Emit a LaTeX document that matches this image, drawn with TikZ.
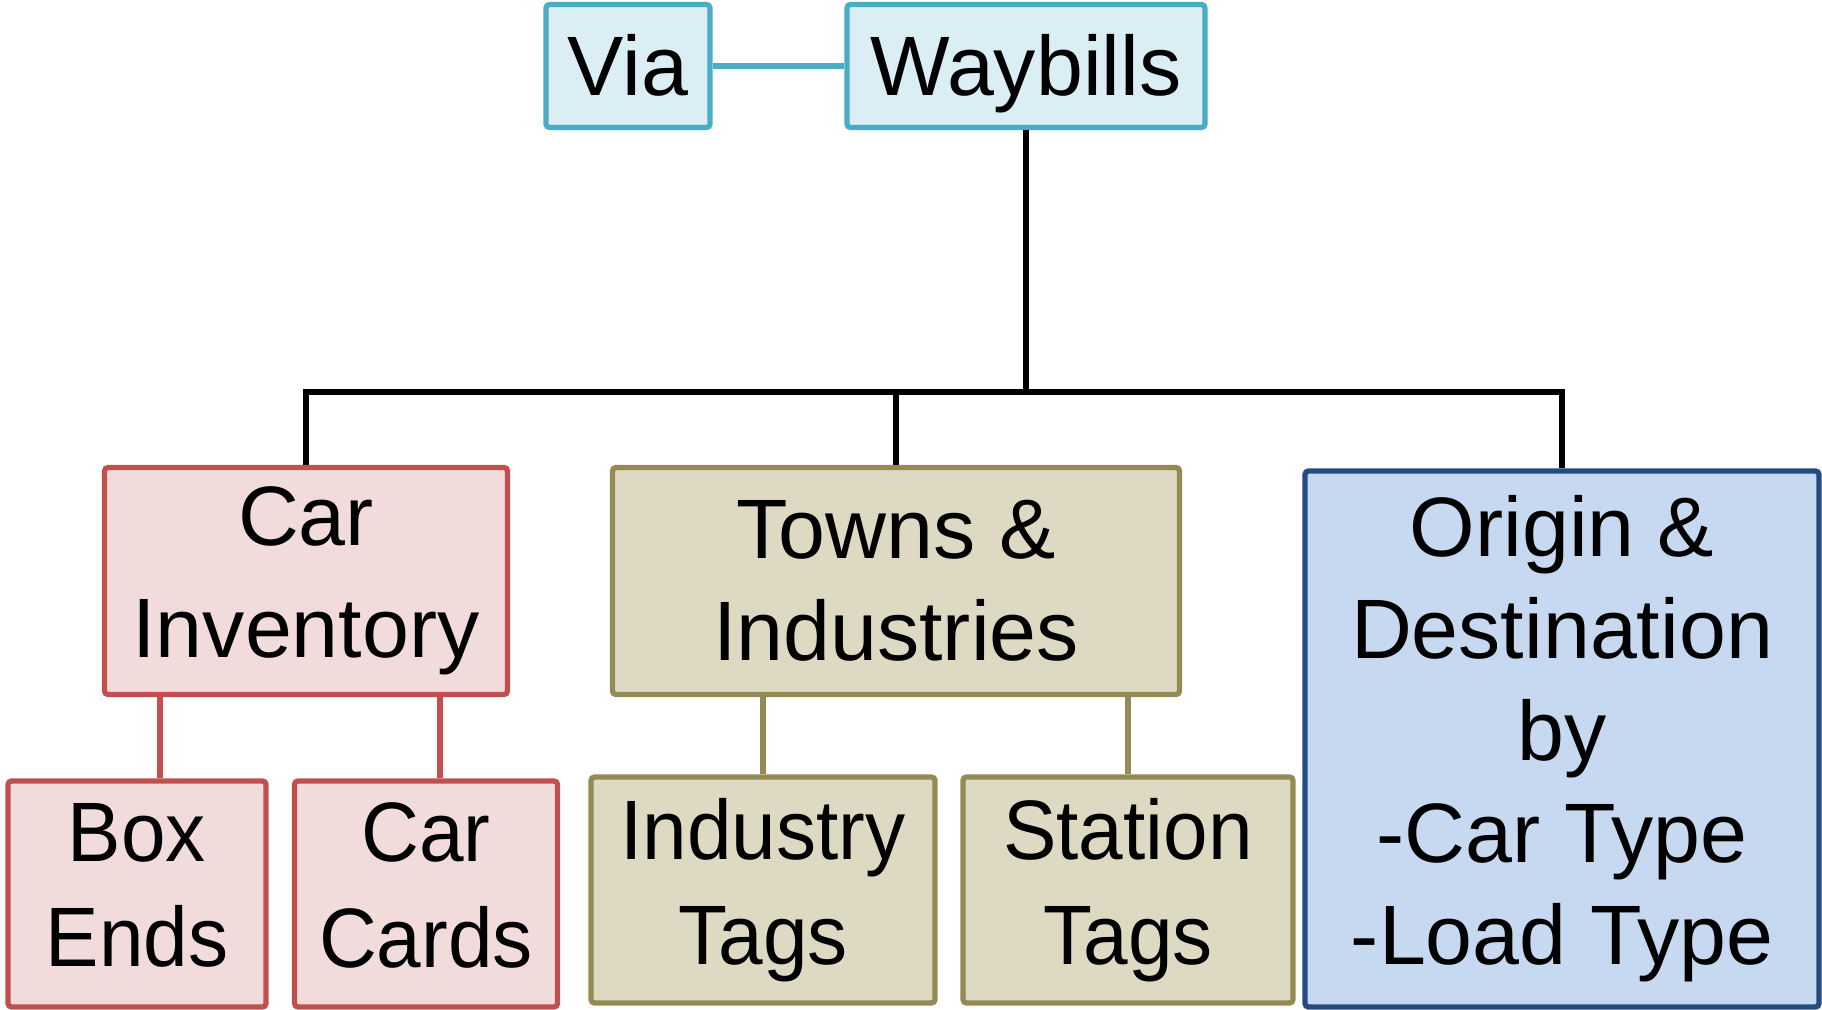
\documentclass[tikz,border=0pt]{standalone}
\usepackage{fontspec}
\setmainfont{Liberation Sans}
\newfontfamily\narrowsans[FakeStretch=0.95]{Liberation Sans}
\usepackage{tikz}
\usetikzlibrary{arrows}

\definecolor{vialine}{RGB}{75,172,198}
\definecolor{viafill}{RGB}{219,238,243}
\definecolor{carline}{RGB}{192,80,77}
\definecolor{carfill}{RGB}{242,220,219}
\definecolor{townline}{RGB}{148,138,84}
\definecolor{townfill}{RGB}{221,217,195}
\definecolor{odline}{RGB}{36,76,128}
\definecolor{odfill}{RGB}{198,217,241}

\begin{document}
\begin{tikzpicture}[x=0.1mm,y=-0.1mm,
		box/.style={rectangle,rounded corners=1pt,line width=1.5pt,inner sep=0pt,align=center,font=\fontsize{24}{30}\selectfont},
		small/.style={font=\narrowsans\fontsize{24}{30}\selectfont},
		viabox/.style={box,draw=vialine,fill=viafill},
		carbox/.style={box,draw=carline,fill=carfill},
		townbox/.style={box,draw=townline,fill=townfill},
		odbox/.style={box,draw=odline,fill=odfill},
		link/.style={line width=1.8pt}]
			\useasboundingbox (0,0) rectangle (1822,1010);
			
			% top
			
			\node[viabox,minimum width=16.4mm,minimum height=12.3mm,text height=17pt,text depth=0pt] (Via) at (628,66) {Via};
			\node[viabox,minimum width=35.8mm,minimum height=12.3mm,text height=17pt,text depth=0pt] (Waybills) at (1026,66) {Waybills};
			\draw[link,draw=vialine] (Via) -- (Waybills);
			
			% middle
			
			\node[carbox,minimum width=40.3mm,minimum height=22.7mm] (CarInv) at (306,581) {Car\\[2pt]Inventory};
			\node[townbox,minimum width=56.7mm,minimum height=22.7mm] (Towns) at (896,581) {Towns \&\\[-1pt]Industries};
			\node[odbox,minimum width=51.4mm,minimum height=53.6mm,font=\fontsize{24}{29}\selectfont] (OD) at (1562,739) {Origin \&\\Destination\\by\\-Car Type\\-Load Type};
			
			\coordinate (bus) at (1026,392);
			\draw[link] (Waybills.south) -- (bus);
			\draw[link] (CarInv.north) |- (bus) -| (OD.north);
			\draw[link] (Towns.north) -- (Towns.north |- bus);
			
			% bottom
			
			\node[carbox,small,minimum width=25.8mm,minimum height=22.6mm,text depth=5pt] (BoxEnds) at (137,894) {Box\\Ends};
			\node[carbox,small,minimum width=26.3mm,minimum height=22.6mm,text depth=5pt] (CarCards) at (426,894) {Car\\Cards};
			\node[townbox,small,minimum width=34.4mm,minimum height=22.6mm] (IndTags) at (763,890) {Industry\\Tags};
			\node[townbox,small,minimum width=33mm,minimum height=22.6mm] (StaTags) at (1128,890) {Station\\Tags};
			
			\draw[link,draw=carline] ([xshift=2.3mm]BoxEnds.north) -- ([xshift=2.3mm]BoxEnds.north |- CarInv.south);
			\draw[link,draw=carline] ([xshift=1.4mm]CarCards.north) -- ([xshift=1.4mm]CarCards.north |- CarInv.south);
			\draw[link,draw=townline] (IndTags.north) -- (IndTags.north |- Towns.south);
			\draw[link,draw=townline] (StaTags.north) -- (StaTags.north |- Towns.south);
			
		\end{tikzpicture}
\end{document}
